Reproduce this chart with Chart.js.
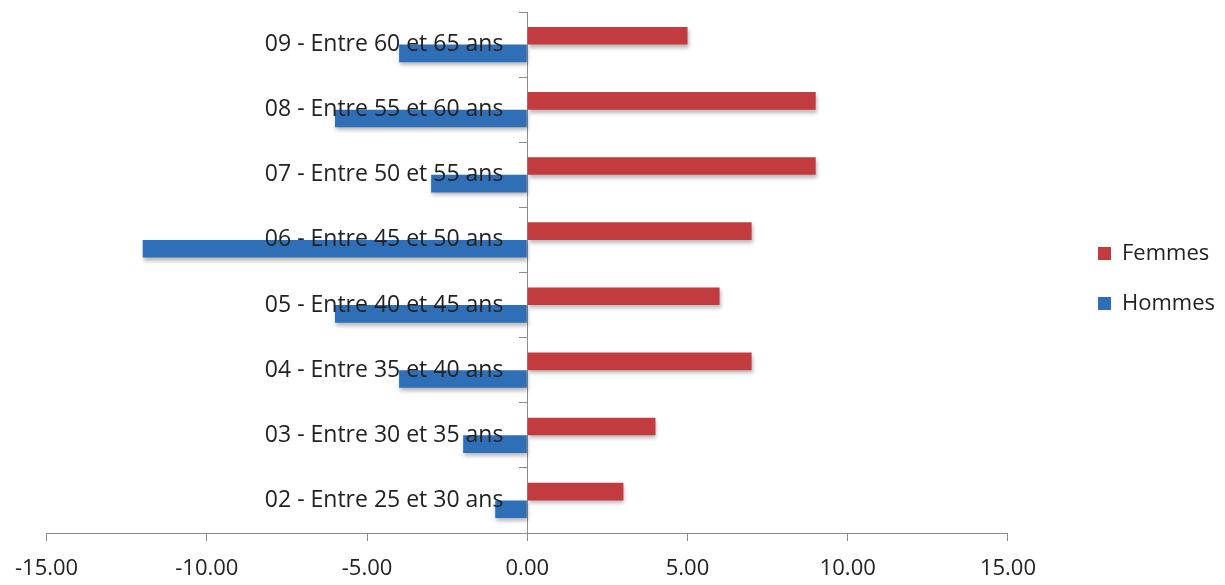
<!DOCTYPE html>
<html>
<head>
<meta charset="utf-8">
<script src="https://cdn.jsdelivr.net/npm/chart.js@4"></script>
<style>
  html, body { margin: 0; padding: 0; background: #fff; }
  #wrap { width: 1225px; height: 585px; }
</style>
</head>
<body>
<div id="wrap"><canvas id="pyramid"></canvas></div>
<script>
const categories = [
  '09 - Entre 60 et 65 ans',
  '08 - Entre 55 et 60 ans',
  '07 - Entre 50 et 55 ans',
  '06 - Entre 45 et 50 ans',
  '05 - Entre 40 et 45 ans',
  '04 - Entre 35 et 40 ans',
  '03 - Entre 30 et 35 ans',
  '02 - Entre 25 et 30 ans'
];
const femmes = [5, 9, 9, 7, 6, 7, 4, 3];
const hommes = [-4, -6, -3, -12, -6, -4, -2, -1];
const xTicks = [-15, -10, -5, 0, 5, 10, 15];

const FONT = '"Open Sans", Lato, sans-serif';
const axisGrey = '#8c8c8c';

// soft drop shadow under the bars, like the Excel 3D look
const barShadow = {
  id: 'barShadow',
  beforeDatasetsDraw(chart) {
    const c = chart.ctx;
    c.save();
    c.shadowColor = 'rgba(0,0,0,0.28)';
    c.shadowBlur = 4;
    c.shadowOffsetX = 1;
    c.shadowOffsetY = 3;
  },
  afterDatasetsDraw(chart) {
    chart.ctx.restore();
  }
};

const chart = document.getElementById('pyramid');
new Chart(chart, {
  type: 'bar',
  data: {
    labels: categories,
    datasets: [{
      label: 'Femmes',
      data: femmes,
      backgroundColor: '#c23b3f',
      borderWidth: 0
    }, {
      label: 'Hommes',
      data: hommes,
      backgroundColor: '#2f6fb7',
      borderWidth: 0
    }]
  },
  plugins: [barShadow],
  options: {
    indexAxis: 'y',
    responsive: true,
    maintainAspectRatio: false,
    animation: false,
    categoryPercentage: 0.54,
    barPercentage: 1.0,
    layout: { padding: { left: 15, right: 0, top: 12, bottom: 0 } },
    plugins: {
      tooltip: { enabled: false },
      legend: {
        position: 'right',
        fullSize: false,
        // blank title, only nudges the legend items down a little
        title: { display: true, text: ' ', font: { size: 10 }, padding: 0 },
        labels: {
          boxWidth: 13,
          boxHeight: 13,
          padding: 28,
          color: '#222',
          font: { family: FONT, size: 22 }
        }
      }
    },
    scales: {
      x: {
        min: -15,
        max: 15,
        afterBuildTicks: s => { s.ticks = xTicks.map(v => ({ value: v })); },
        afterFit: s => { s.height = 52; },
        ticks: {
          color: '#222',
          padding: 15,
          font: { family: FONT, size: 22 },
          callback: v => Number(v).toFixed(2)
        },
        grid: { drawOnChartArea: false, drawTicks: true, tickLength: 8, color: axisGrey },
        border: { color: axisGrey }
      },
      y: {
        position: { x: 0 },
        afterFit: s => { s.paddingTop = 0; s.paddingBottom = 0; },
        ticks: {
          z: 1,
          color: '#222',
          font: { family: FONT, size: 23 },
          // axis sits at x=0 so tick padding is ignored; trailing spaces keep the gap
          callback: (v, i) => categories[i] + '    '
        },
        grid: { offset: true, drawOnChartArea: false, drawTicks: true, tickLength: 8, color: axisGrey },
        border: { color: axisGrey }
      },
      // empty axis only used to keep a gap between the plot and the legend
      gap: {
        type: 'linear',
        position: 'right',
        display: true,
        ticks: { display: false },
        grid: { display: false },
        border: { display: false },
        afterFit: s => { s.width = 62; }
      }
    }
  }
});
</script>
</body>
</html>
